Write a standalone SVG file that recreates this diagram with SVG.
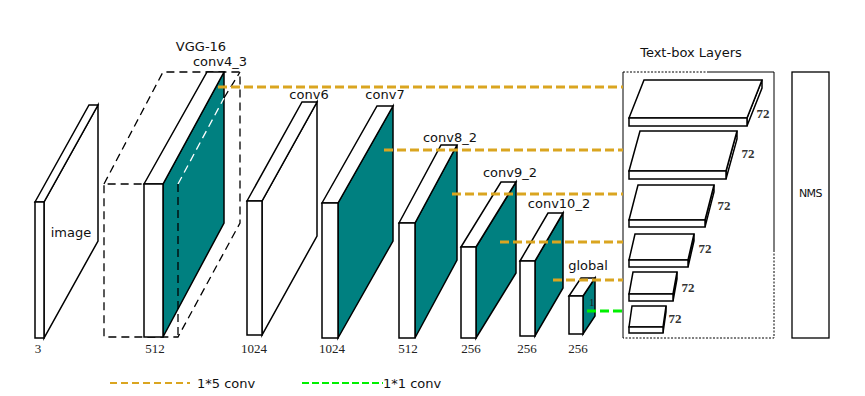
<svg xmlns="http://www.w3.org/2000/svg" width="865" height="396" viewBox="0 0 865 396">
<style>
.s{stroke:#000;stroke-width:1.5;stroke-linejoin:miter;fill:#fff}
.t{fill:#008080}
.d{stroke:#000;stroke-width:1.3;stroke-dasharray:8,5;fill:none}
.or{stroke:#DAA520;stroke-width:3;stroke-dasharray:9,4;fill:none}
.gr{stroke:#00F000;stroke-width:3;stroke-dasharray:9,4;fill:none}
.lab{font-family:"DejaVu Sans",sans-serif;font-size:13px;fill:#111}
.num{font-family:"Liberation Serif",serif;font-size:13px;fill:#222}
.n72{font-family:"Liberation Serif",serif;font-size:13px;font-weight:bold;fill:#333}
</style>
<rect width="865" height="396" fill="#fff"/>

<g id="image">
<polygon class="s" points="44,202 98,105 98,241 44,338"/>
<polygon class="s" points="35,202 89,105 98,105 44,202"/>
<rect class="s" x="35" y="202" width="9" height="136"/>
<text class="lab" x="71" y="237" text-anchor="middle">image</text>
<text class="num" x="38" y="353" text-anchor="middle">3</text>
</g>

<g id="vgg16">
<polyline class="d" points="104,184 163,72 240,72 240,223 178,337 104,337 104,184 178,184"/>
<text class="lab" x="201" y="51" text-anchor="middle">VGG-16</text>
</g>

<g id="conv4_3">
<polygon class="s t" points="163,184 224,72 224,223 163,337"/>
<polygon class="s" points="144,184 207,72 224,72 163,184"/>
<rect class="s" x="144" y="184" width="19" height="153"/>
<line x1="178" y1="184" x2="224" y2="98" stroke="#fff" stroke-width="1.3" stroke-dasharray="8,5"/>
<line class="d" x1="224" y1="98" x2="240" y2="72"/>
<line class="d" x1="178" y1="184" x2="178" y2="337"/>
<text class="lab" x="220" y="66" text-anchor="middle">conv4_3</text>
<text class="num" x="155" y="353" text-anchor="middle">512</text>
</g>

<g id="conv6">
<polygon class="s" points="262,201 317,102 317,236 262,335"/>
<polygon class="s" points="247,201 302,102 317,102 262,201"/>
<rect class="s" x="247" y="201" width="15" height="134"/>
<text class="lab" x="309" y="99" text-anchor="middle">conv6</text>
<text class="num" x="254" y="353" text-anchor="middle">1024</text>
</g>

<g id="conv7">
<polygon class="s t" points="338,203 393,106 393,241 338,338"/>
<polygon class="s" points="322,203 377,106 393,106 338,203"/>
<rect class="s" x="322" y="203" width="16" height="135"/>
<text class="lab" x="385" y="99" text-anchor="middle">conv7</text>
<text class="num" x="332" y="353" text-anchor="middle">1024</text>
</g>

<g id="conv8_2">
<polygon class="s t" points="415,223 457,145 457,260 415,338"/>
<polygon class="s" points="399,223 441,145 457,145 415,223"/>
<rect class="s" x="399" y="223" width="16" height="115"/>
<text class="lab" x="450" y="142" text-anchor="middle">conv8_2</text>
<text class="num" x="408" y="353" text-anchor="middle">512</text>
</g>

<g id="conv9_2">
<polygon class="s t" points="476,247 516,182 516,273 476,338"/>
<polygon class="s" points="461,247 501,182 516,182 476,247"/>
<rect class="s" x="461" y="247" width="15" height="91"/>
<text class="lab" x="510" y="177" text-anchor="middle">conv9_2</text>
<text class="num" x="471" y="353" text-anchor="middle">256</text>
</g>

<g id="conv10_2">
<polygon class="s t" points="535,261 563,213 563,288 535,336"/>
<polygon class="s" points="520,261 548,213 563,213 535,261"/>
<rect class="s" x="520" y="261" width="15" height="75"/>
<text class="lab" x="559" y="208" text-anchor="middle">conv10_2</text>
<text class="num" x="527" y="353" text-anchor="middle">256</text>
</g>

<g id="global">
<polygon class="s t" points="583,296 595,278 595,316 583,334"/>
<polygon class="s" points="569,296 581,278 595,278 583,296"/>
<rect class="s" x="569" y="296" width="14" height="38"/>
<text class="lab" x="588" y="270" text-anchor="middle">global</text>
<text x="589" y="306" font-family="Liberation Serif,serif" font-size="11" fill="#222">1</text>
<text class="num" x="578" y="353" text-anchor="middle">256</text>
</g>

<g id="textbox-layers">
<path d="M623,338 V72 M708,72 H774 V250" fill="none" stroke="#000" stroke-width="1"/>
<path d="M623,72 H708 M774,250 V338 H623" fill="none" stroke="#000" stroke-width="1" stroke-dasharray="2,1.5"/>
<text class="lab" x="691" y="57" text-anchor="middle">Text-box Layers</text>
<g id="tb1">
<polygon class="s" points="747,118 762,80 762,88 747,126"/>
<polygon class="s" points="629,118 644,80 762,80 747,118"/>
<rect class="s" x="629" y="118" width="118" height="8"/>
<text class="n72" x="763" y="118" text-anchor="middle">72</text>
</g>
<g id="tb2">
<polygon class="s" points="726,171 737,131 737,139 726,179"/>
<polygon class="s" points="629,171 640,131 737,131 726,171"/>
<rect class="s" x="629" y="171" width="97" height="8"/>
<text class="n72" x="748" y="158" text-anchor="middle">72</text>
</g>
<g id="tb3">
<polygon class="s" points="705,220 714,185 714,192 705,227"/>
<polygon class="s" points="629,220 638,185 714,185 705,220"/>
<rect class="s" x="629" y="220" width="76" height="7"/>
<text class="n72" x="724" y="210" text-anchor="middle">72</text>
</g>
<g id="tb4">
<polygon class="s" points="688,260 694,234 694,241 688,267"/>
<polygon class="s" points="629,260 635,234 694,234 688,260"/>
<rect class="s" x="629" y="260" width="59" height="7"/>
<text class="n72" x="705" y="253" text-anchor="middle">72</text>
</g>
<g id="tb5">
<polygon class="s" points="673,294 677,272 677,279 673,301"/>
<polygon class="s" points="629,294 633,272 677,272 673,294"/>
<rect class="s" x="629" y="294" width="44" height="7"/>
<text class="n72" x="688" y="292" text-anchor="middle">72</text>
</g>
<g id="tb6">
<polygon class="s" points="663,327 666,306 666,312 663,333"/>
<polygon class="s" points="629,327 632,306 666,306 663,327"/>
<rect class="s" x="629" y="327" width="34" height="6"/>
<text class="n72" x="675" y="323" text-anchor="middle">72</text>
</g>
</g>

<g id="nms">
<rect x="792" y="72" width="37" height="266" fill="#fff" stroke="#000" stroke-width="1.3"/>
<text x="810.5" y="197" text-anchor="middle" font-family="DejaVu Sans,sans-serif" font-size="11" letter-spacing="-0.5" fill="#111">NMS</text>
</g>

<g id="connectors">
<line class="or" x1="218" y1="87" x2="623" y2="87"/>
<line class="or" x1="384" y1="150" x2="623" y2="150"/>
<line class="or" x1="452" y1="194" x2="623" y2="194"/>
<line class="or" x1="500" y1="242" x2="623" y2="242"/>
<line class="or" x1="553" y1="280" x2="623" y2="280"/>
<line class="gr" x1="587" y1="311" x2="622" y2="311"/>
</g>

<g id="legend">
<line x1="110" y1="383" x2="190" y2="383" stroke="#DAA520" stroke-width="2.2" stroke-dasharray="7,4"/>
<text class="lab" x="197" y="388">1*5 conv</text>
<line x1="302" y1="383" x2="383" y2="383" stroke="#00F000" stroke-width="2.2" stroke-dasharray="7,3"/>
<text class="lab" x="383" y="388">1*1 conv</text>
</g>
</svg>
